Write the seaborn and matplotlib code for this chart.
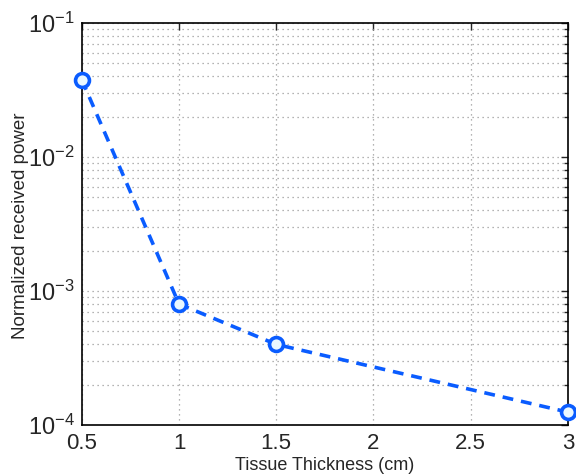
import matplotlib
matplotlib.use("Agg")
import matplotlib.pyplot as plt
import seaborn as sns
import pandas as pd
from matplotlib.ticker import LogLocator, FixedLocator

thickness_cm = [0.5, 1.0, 1.5, 3.0]
received_power = [0.0376, 8.0e-4, 4.0e-4, 1.25e-4]
x_ticks = [0.5, 1, 1.5, 2, 2.5, 3]
x_tick_labels = ["0.5", "1", "1.5", "2", "2.5", "3"]

sns.set_style("white")
plt.rcParams["font.family"] = ["Liberation Sans", "DejaVu Sans"]
plt.rcParams["mathtext.fontset"] = "custom"
plt.rcParams["mathtext.rm"] = "Liberation Sans"
plt.rcParams["mathtext.it"] = "Liberation Sans:italic"

df = pd.DataFrame({"thickness": thickness_cm, "power": received_power})

fig = plt.figure(figsize=(5.76, 4.75), dpi=100)
ax = fig.add_axes([0.142, 0.105, 0.844, 0.847])

line_color = "#0a5cff"
sns.lineplot(data=df, x="thickness", y="power", ax=ax, color=line_color,
             linestyle=(0, (3, 2.2)), linewidth=2.6, marker="o", markersize=10,
             markerfacecolor="#eaf8ff", markeredgecolor=line_color,
             markeredgewidth=2.6, clip_on=False, zorder=5)

ax.set_yscale("log")
ax.set_xlim(0.5, 3)
ax.set_ylim(1e-4, 1e-1)
ax.xaxis.set_major_locator(FixedLocator(x_ticks))
ax.set_xticklabels(x_tick_labels)
ax.yaxis.set_major_locator(LogLocator(base=10, numticks=10))
ax.yaxis.set_minor_locator(LogLocator(base=10, subs=range(2, 10), numticks=20))

ax.grid(True, which="major", axis="both", color="#9a9a9a", linestyle=(0, (1, 3)), linewidth=0.9)
ax.grid(True, which="minor", axis="y", color="#9a9a9a", linestyle=(0, (1, 3)), linewidth=0.9)

ax.tick_params(which="both", direction="in", top=True, right=True, width=1.0)
ax.tick_params(axis="x", labelsize=16, pad=6)
ax.tick_params(axis="y", labelsize=17, pad=5)
ax.tick_params(which="major", length=5)
ax.tick_params(which="minor", length=3)
for sp in ax.spines.values():
    sp.set_color("black")
    sp.set_linewidth(1.2)

ax.set_xlabel("Tissue Thickness (cm)", fontsize=13, labelpad=2)
ax.set_ylabel("Normalized received power", fontsize=13.5, va="center")
ax.yaxis.set_label_coords(-0.126, 0.495)

fig.savefig("out.png", dpi=100)
